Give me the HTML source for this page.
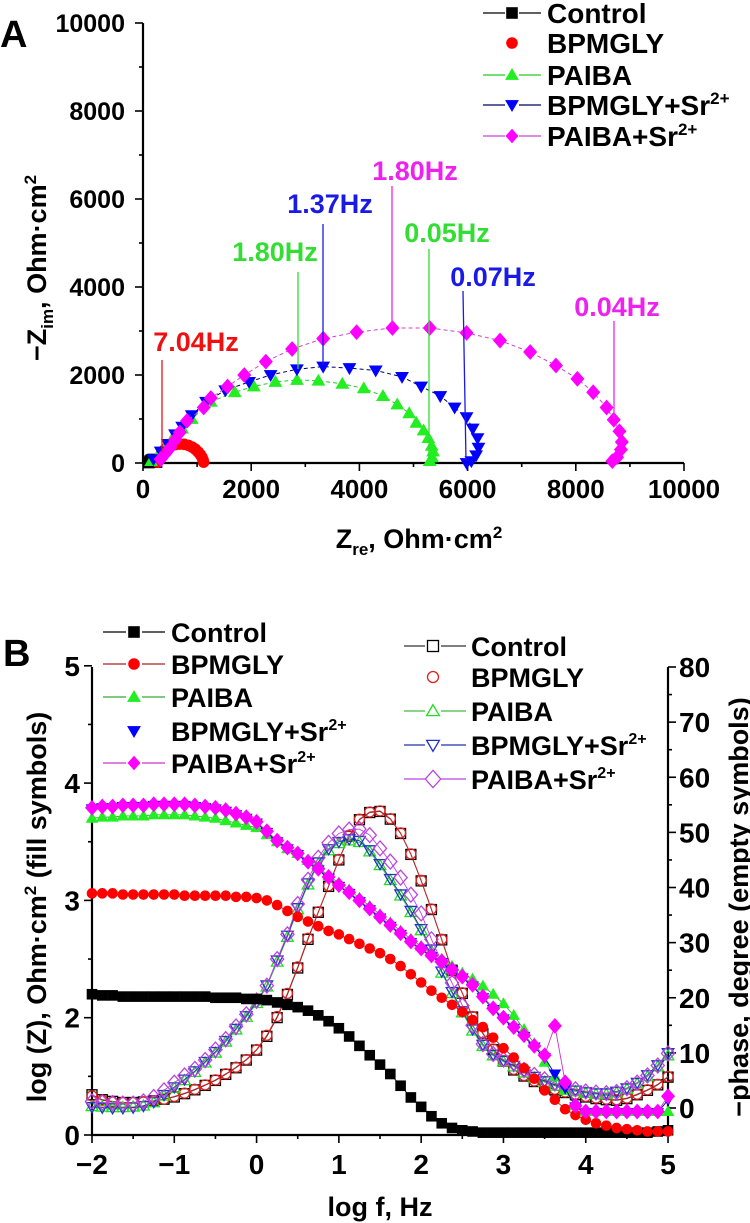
<!DOCTYPE html>
<html><head><meta charset="utf-8">
<style>
html,body{margin:0;padding:0;background:#fff;}
svg{display:block;font-family:"Liberation Sans",Arial,sans-serif;font-weight:bold;}
</style></head>
<body>
<svg id="fig" width="750" height="1223" viewBox="0 0 750 1223" xmlns="http://www.w3.org/2000/svg"></svg>
<script>
// ===== Panel A data (Nyquist) =====
const ctrlRe=[110,130,150,170,190,210,230,250];
const ctrlIm=[10,40,60,75,80,70,50,20];
const bpRe=[270,300,340,390,450,520,600,680,760,840,910,970,1020,1060,1090,1110,1120];
const bpIm=[20,120,210,290,350,395,420,430,425,400,360,310,250,190,130,70,20];
const paRe=[150,283,415,548,724,901,1254,1696,2049,2447,2845,3242,3684,4081,4435,4700,4920,5053,5186,5274,5336,5362,5345,5301];
const paIm=[43,174,348,565,783,1000,1391,1609,1739,1843,1887,1870,1800,1696,1522,1330,1130,913,739,565,391,261,130,43];
const bsRe=[194,327,459,592,724,901,1166,1520,1961,2359,2845,3330,3816,4302,4788,5142,5495,5760,5981,6095,6184,6201,6157,6069,5981];
const bsIm=[87,261,435,652,826,1087,1391,1652,1843,2000,2130,2191,2157,2104,1957,1739,1522,1261,1043,783,565,348,174,43,0];
const psRe=[327,415,503,592,680,813,1122,1254,1563,1872,2270,2756,3330,3948,4611,5301,5981,6599,7156,7633,8030,8322,8569,8701,8807,8851,8834,8763,8675];
const psIm=[87,217,348,522,696,957,1261,1478,1739,2000,2304,2591,2826,2974,3069,3069,2957,2783,2522,2217,1913,1609,1261,983,722,478,304,130,43];
const aTicks=[0,2000,4000,6000,8000,10000];
const aTickLabels=["0","2000","4000","6000","8000","10000"];

// ===== Panel B data (Bode), log f from -2 to 5 in steps of 0.125 =====
const logF=[-2,-1.875,-1.75,-1.625,-1.5,-1.375,-1.25,-1.125,-1,-0.875,-0.75,-0.625,-0.5,-0.375,-0.25,-0.125,0,0.125,0.25,0.375,0.5,0.625,0.75,0.875,1,1.125,1.25,1.375,1.5,1.625,1.75,1.875,2,2.125,2.25,2.375,2.5,2.625,2.75,2.875,3,3.125,3.25,3.375,3.5,3.625,3.75,3.875,4,4.125,4.25,4.375,4.5,4.625,4.75,4.875,5];
const zCtrl=[2.20,2.19,2.19,2.18,2.18,2.18,2.18,2.18,2.18,2.18,2.18,2.18,2.17,2.17,2.17,2.16,2.16,2.15,2.13,2.11,2.09,2.06,2.02,1.97,1.91,1.84,1.76,1.68,1.60,1.52,1.42,1.32,1.24,1.16,1.10,1.06,1.04,1.03,1.02,1.02,1.02,1.02,1.02,1.02,1.02,1.02,1.02,1.02,1.02,1.02,1.02,1.02,1.02,1.02,1.02,1.03,1.04];
const zBp=[3.06,3.06,3.06,3.05,3.05,3.05,3.05,3.05,3.05,3.04,3.04,3.04,3.04,3.04,3.03,3.03,3.02,3.00,2.96,2.91,2.86,2.82,2.78,2.74,2.71,2.67,2.63,2.59,2.55,2.50,2.44,2.37,2.30,2.23,2.17,2.11,2.05,1.98,1.92,1.83,1.74,1.66,1.57,1.48,1.38,1.30,1.22,1.17,1.13,1.10,1.08,1.06,1.05,1.04,1.03,1.03,1.03];
const zPa=[3.70,3.71,3.71,3.72,3.72,3.72,3.73,3.73,3.73,3.73,3.72,3.71,3.70,3.68,3.66,3.64,3.62,3.56,3.50,3.44,3.40,3.34,3.28,3.21,3.15,3.09,3.02,2.95,2.88,2.81,2.74,2.67,2.61,2.55,2.50,2.44,2.38,2.33,2.27,2.20,2.12,2.02,1.90,1.78,1.62,1.50,1.38,1.25,1.20,1.20,1.20,1.20,1.20,1.20,1.20,1.20,1.20];
const zBs=[3.78,3.79,3.79,3.80,3.80,3.80,3.81,3.81,3.81,3.81,3.80,3.79,3.78,3.76,3.73,3.70,3.66,3.58,3.50,3.44,3.39,3.32,3.26,3.19,3.12,3.06,2.99,2.92,2.85,2.78,2.71,2.64,2.58,2.52,2.47,2.40,2.34,2.27,2.17,2.07,1.99,1.91,1.84,1.75,1.66,1.52,1.40,1.24,1.19,1.19,1.19,1.19,1.19,1.19,1.19,1.19,1.30];
const zPs=[3.79,3.80,3.80,3.81,3.81,3.81,3.82,3.82,3.82,3.82,3.81,3.80,3.79,3.77,3.74,3.71,3.67,3.59,3.51,3.45,3.40,3.33,3.27,3.20,3.13,3.07,3.00,2.93,2.86,2.79,2.72,2.65,2.59,2.53,2.48,2.41,2.35,2.28,2.18,2.08,2.00,1.92,1.85,1.76,1.68,1.93,1.45,1.25,1.20,1.20,1.20,1.20,1.20,1.20,1.20,1.20,1.33];
const pCtrl=[2.4,1.5,1.2,1.0,1.0,1.1,1.3,1.6,2.0,2.6,3.3,4.1,5.0,6.1,7.3,8.7,10.5,13,16.4,20.6,25.4,30.6,35.5,40.2,45,49.3,52.3,53.6,53.8,52.4,49.8,46,41.2,36,30.5,25,20.8,16.5,13.5,10.6,8.5,6.9,5.8,4.8,4.0,3.3,2.8,2.4,2.0,1.7,1.5,1.4,1.7,2.4,3.2,4.2,5.6];
const pBp=[2.2,1.4,1.1,1.0,1.0,1.1,1.3,1.6,2.1,2.7,3.4,4.2,5.1,6.2,7.4,8.8,10.6,13.2,16.6,20.8,25.6,30.8,35.6,40.3,45.1,49.4,52.4,53.7,53.9,52.5,49.9,46.1,41.3,36.1,30.6,25.1,20.9,16.6,13.6,10.7,8.6,7.0,5.9,4.9,4.1,3.4,2.9,2.5,2.1,1.8,1.6,1.5,1.8,2.5,3.3,4.3,5.7];
const pPa=[0.3,0.2,0.1,0.1,0.2,0.4,1.0,2.2,3.6,5.0,6.5,8.2,10.0,12.0,14.2,16.5,19,22,26.5,31,36,40.5,44.3,46.7,48,48.5,48.2,46.5,44,41.3,38.5,35.5,32.2,28.5,24.5,20.8,17.3,14,11.2,9.5,8.4,7.5,6.4,5.5,4.7,4.0,3.4,3.0,2.7,2.5,2.5,2.8,3.4,4.4,5.7,7.5,9.5];
const pBs=[0.2,0.1,0.0,0.0,0.1,0.4,1.1,2.4,3.8,5.2,6.7,8.4,10.2,12.2,14.4,16.7,19.2,22.3,26.8,31.3,36.3,40.8,44.6,47.0,48.3,48.8,48.5,46.8,44.3,41.6,38.8,35.8,32.5,28.8,24.8,21.1,17.6,14.3,11.5,9.7,8.6,7.7,6.6,5.7,4.9,4.2,3.6,3.2,2.9,2.7,2.7,3.0,3.6,4.6,6.0,7.8,10.0];
const pPs=[1.2,1.0,0.9,0.8,0.8,1.2,2.0,3.2,4.6,5.9,7.1,8.7,10.6,12.5,14.8,17.0,19.5,22.2,27,31.5,37,41.4,45.4,48.1,49.8,50.5,50.6,49.5,47.1,44.7,41.8,38.7,35.3,30.6,26.5,22.7,18.6,15,11.6,9.8,8.8,8.1,6.9,6.0,5.2,4.5,3.9,3.4,3.0,2.8,2.7,2.9,3.6,4.6,5.9,7.7,9.9];
const bXTicks=[-2,-1,0,1,2,3,4,5];
const bXLabels=["\u22122","\u22121","0","1","2","3","4","5"];
const bLTicks=[1,2,3,4,5];
const bLLabels=["0","2","3","4","5"];
const bRTicks=[0,10,20,30,40,50,60,70,80];
const bRLabels=["0","10","20","30","40","50","60","70","80"];

// ===== scales =====
const xA=v=>143+v*0.0541, yA=v=>463-v*0.044;
const xB=v=>92+(v+2)*82.29, yL=v=>1135-(v-1)*117.3, yR=p=>1108-p*5.5125;

const NS="http://www.w3.org/2000/svg";
const svg=document.getElementById('fig');
function mk(tag,attrs,parent){const e=document.createElementNS(NS,tag);for(const k in attrs)e.setAttribute(k,attrs[k]);(parent||svg).appendChild(e);return e;}
function marker(g,type,cx,cy,s,color,filled){
  let e;const f=filled?color:'none',sw=filled?0.6:1.3;
  if(type==='sq') e=mk('rect',{x:cx-s/2,y:cy-s/2,width:s,height:s,fill:f,stroke:color,'stroke-width':sw},g);
  else if(type==='ci') e=mk('circle',{cx:cx,cy:cy,r:s/2,fill:f,stroke:color,'stroke-width':sw},g);
  else if(type==='tu') e=mk('polygon',{points:`${cx},${cy-s*0.58} ${cx-s*0.58},${cy+s*0.42} ${cx+s*0.58},${cy+s*0.42}`,fill:f,stroke:color,'stroke-width':sw},g);
  else if(type==='td') e=mk('polygon',{points:`${cx},${cy+s*0.58} ${cx-s*0.58},${cy-s*0.42} ${cx+s*0.58},${cy-s*0.42}`,fill:f,stroke:color,'stroke-width':sw},g);
  else e=mk('polygon',{points:`${cx},${cy-s*0.62} ${cx+s*0.55},${cy} ${cx},${cy+s*0.62} ${cx-s*0.55},${cy}`,fill:f,stroke:color,'stroke-width':sw},g);
  return e;
}
function text(str,x,y,size,anchor,fill,parent){const t=mk('text',{x:x,y:y,'font-size':size,'text-anchor':anchor||'start',fill:fill||'#000'},parent);t.textContent=str;return t;}

// ================= PANEL A =================
const gA=mk('g',{});


let t=text('A',0,47,38,'start','#000',gA);


let ax=mk('path',{d:`M143,${yA(10000)} V463 H${xA(10000)}`,stroke:'#000','stroke-width':2.2,fill:'none'},gA);


for(let v=0;v<=10000;v+=1000){
  const major=v%2000===0;
  mk('line',{x1:143,x2:major?135:139,y1:yA(v),y2:yA(v),stroke:'#000','stroke-width':1.6},gA);
  mk('line',{x1:xA(v),x2:xA(v),y1:463,y2:major?471:467,stroke:'#000','stroke-width':1.6},gA);
}
aTicks.forEach((v,i)=>{
  const ty=text(aTickLabels[i],125,yA(v)+9,25,'end','#000',gA);
  
  
  const tx=text(aTickLabels[i],xA(v),498,26,'middle','#000',gA);
  
  
});
t=mk('text',{x:419,y:548,'font-size':27,'text-anchor':'middle'},gA);
t.innerHTML='Z<tspan font-size="17" dy="7">re</tspan><tspan dy="-7">, Ohm·cm</tspan><tspan font-size="17" dy="-10">2</tspan>';


t=mk('text',{x:0,y:0,'font-size':27,'text-anchor':'middle',transform:'translate(46,268) rotate(-90)'},gA);
t.innerHTML='\u2212Z<tspan font-size="17" dy="7">im</tspan><tspan dy="-7">, Ohm·cm</tspan><tspan font-size="17" dy="-10">2</tspan>';



const nyq=[
 {n:'control',re:ctrlRe,im:ctrlIm,c:'#000',lc:'#000',m:'sq',dash:''},
 {n:'bpmgly',re:bpRe,im:bpIm,c:'#ff0000',lc:'#ff0000',m:'ci',dash:''},
 {n:'paiba',re:paRe,im:paIm,c:'#22ee22',lc:'#22cc22',m:'tu',dash:'4,3'},
 {n:'bpmgly-sr',re:bsRe,im:bsIm,c:'#0000ff',lc:'#000060',m:'td',dash:'4,3'},
 {n:'paiba-sr',re:psRe,im:psIm,c:'#ff00ff',lc:'#cc44cc',m:'di',dash:'4,3'}];
nyq.forEach(s=>{
  const g=mk('g',{},gA);
  
  
  const pts=s.re.map((r,i)=>xA(r)+','+yA(s.im[i])).join(' ');
  const pl=mk('polyline',{points:pts,fill:'none',stroke:s.lc,'stroke-width':1,'stroke-dasharray':s.dash},g);
  
  
  s.re.forEach((r,i)=>{
    const m=marker(g,s.m,xA(r),yA(s.im[i]),s.m==='di'?12:11,s.c,true);
    
    
  });
});
// frequency annotations
const ann=[
 {s:'7.04Hz',c:'#ee1111',tx:196,ty:351,lx1:162,ly1:360,lx2:162,ly2:452},
 {s:'1.80Hz',c:'#33dd33',tx:275,ty:261,lx1:298,ly1:272,lx2:298,ly2:369},
 {s:'1.37Hz',c:'#1a1ae6',tx:330,ty:213,lx1:323,ly1:224,lx2:323,ly2:365},
 {s:'1.80Hz',c:'#ee22ee',tx:415,ty:180,lx1:392,ly1:186,lx2:392,ly2:327},
 {s:'0.05Hz',c:'#33dd33',tx:447,ty:242,lx1:429,ly1:249,lx2:429,ly2:459},
 {s:'0.07Hz',c:'#1a1ae6',tx:493,ty:286,lx1:463,ly1:291,lx2:466,ly2:461},
 {s:'0.04Hz',c:'#ee22ee',tx:617,ty:316,lx1:614,ly1:321,lx2:614,ly2:419}];
ann.forEach(a=>{
  const l=mk('line',{x1:a.lx1,y1:a.ly1,x2:a.lx2,y2:a.ly2,stroke:a.c,'stroke-width':1.3},gA);
  
  
  const tt=text(a.s,a.tx,a.ty,27,'middle',a.c,gA);
  
  
});
// legend A
const legA=mk('g',{},gA);


const legNames=['Control','BPMGLY','PAIBA','BPMGLY+Sr','PAIBA+Sr'];
const legSup=['','','','2+','2+'];
const legAy=[13,43,75,105,136];
nyq.forEach((s,i)=>{
  const g=mk('g',{},legA);
  
  
  if(s.n!=='bpmgly'){mk('line',{x1:483,x2:505,y1:legAy[i],y2:legAy[i],stroke:s.lc,'stroke-width':1.2},g);mk('line',{x1:519,x2:541,y1:legAy[i],y2:legAy[i],stroke:s.lc,'stroke-width':1.2},g);}
  marker(g,s.m,512,legAy[i],11,s.c,true);
  const tt=mk('text',{x:547,y:legAy[i]+10,'font-size':28},g);
  tt.innerHTML=legNames[i]+(legSup[i]?'<tspan font-size="17" dy="-11">'+legSup[i]+'</tspan>':'');
});

// ================= PANEL B =================
const gB=mk('g',{});


t=text('B',3,666,38,'start','#000',gB);


ax=mk('path',{d:`M92,667 V1135 H668 V667`,stroke:'#000','stroke-width':2.2,fill:'none'},gB);


for(let v=-2;v<=5.001;v+=0.5){const mj=Math.abs(v-Math.round(v))<0.01;mk('line',{x1:xB(v),x2:xB(v),y1:1135,y2:mj?1143:1139,stroke:'#000','stroke-width':1.6},gB);}
for(let v=1;v<=5.001;v+=0.5){const mj=Math.abs(v-Math.round(v))<0.01;mk('line',{x1:92,x2:mj?84:88,y1:yL(v),y2:yL(v),stroke:'#000','stroke-width':1.6},gB);}
for(let p=0;p<=80;p+=5){const mj=p%10===0;mk('line',{x1:668,x2:mj?676:672,y1:yR(p),y2:yR(p),stroke:'#000','stroke-width':1.6},gB);}
bXTicks.forEach((v,i)=>{const tt=text(bXLabels[i],xB(v),1174,28,'middle','#000',gB);
  
  });
bLTicks.forEach((v,i)=>{const tt=text(bLLabels[i],80,yL(v)+10,28,'end','#000',gB);
  
  });
bRTicks.forEach((v,i)=>{const tt=text(bRLabels[i],679,yR(v)+10,28,'start','#000',gB);
  
  });
t=text('log f, Hz',380,1216,27,'middle','#000',gB);


t=mk('text',{x:0,y:0,'font-size':27,'text-anchor':'middle',transform:'translate(46,907) rotate(-90)'},gB);
t.innerHTML='log (Z), Ohm·cm<tspan font-size="17" dy="-10">2</tspan><tspan dy="10"> (fill symbols)</tspan>';


t=mk('text',{x:0,y:0,'font-size':27,'text-anchor':'middle',transform:'translate(748,907) rotate(-90)'},gB);
t.textContent='\u2212phase, degree (empty symbols)';



const phs=[
 {n:'control',v:pCtrl,c:'#000',lc:'#333',m:'sq'},
 {n:'bpmgly',v:pBp,c:'#dd2222',lc:'#dd2222',m:'ci'},
 {n:'paiba',v:pPa,c:'#22dd22',lc:'#44bb44',m:'tu'},
 {n:'bpmgly-sr',v:pBs,c:'#2233cc',lc:'#2233aa',m:'td'},
 {n:'paiba-sr',v:pPs,c:'#bb44dd',lc:'#bb44dd',m:'di'}];
const mags=[
 {n:'control',v:zCtrl,c:'#000',lc:'#000',m:'sq'},
 {n:'bpmgly',v:zBp,c:'#ff0000',lc:'#aa2222',m:'ci'},
 {n:'paiba',v:zPa,c:'#22ee22',lc:'#33aa33',m:'tu'},
 {n:'bpmgly-sr',v:zBs,c:'#0000ff',lc:'#0000aa',m:'td'},
 {n:'paiba-sr',v:zPs,c:'#ff00ff',lc:'#cc33cc',m:'di'}];
phs.forEach(s=>{
  const g=mk('g',{},gB);
  
  
  const pl=mk('polyline',{points:logF.map((f,i)=>xB(f)+','+yR(s.v[i])).join(' '),fill:'none',stroke:s.lc,'stroke-width':0.9},g);
  
  
  logF.forEach((f,i)=>{const m=marker(g,s.m,xB(f),yR(s.v[i]),s.m==='di'?12:10,s.c,false);
    
    });
});
mags.forEach(s=>{
  const g=mk('g',{},gB);
  
  
  const pl=mk('polyline',{points:logF.map((f,i)=>xB(f)+','+yL(s.v[i])).join(' '),fill:'none',stroke:s.lc,'stroke-width':0.9},g);
  
  
  logF.forEach((f,i)=>{const m=marker(g,s.m,xB(f),yL(s.v[i]),s.m==='di'?12:10,s.c,true);
    
    });
});
// legends B
const legB1=mk('g',{},gB);


const lb1y=[632,664,697,731,763];
mags.forEach((s,i)=>{
  const g=mk('g',{},legB1);
  
  
  if(s.n!=='bpmgly-sr'){mk('line',{x1:103,x2:126,y1:lb1y[i],y2:lb1y[i],stroke:s.lc,'stroke-width':1.2},g);mk('line',{x1:142,x2:165,y1:lb1y[i],y2:lb1y[i],stroke:s.lc,'stroke-width':1.2},g);}
  marker(g,s.m,134,lb1y[i],11,s.c,true);
  const tt=mk('text',{x:171,y:lb1y[i]+10,'font-size':27},g);
  tt.innerHTML=legNames[i]+(legSup[i]?'<tspan font-size="16" dy="-11">'+legSup[i]+'</tspan>':'');
});
const legB2=mk('g',{},gB);


const lb2y=[646,677,711,745,779];
phs.forEach((s,i)=>{
  const g=mk('g',{},legB2);
  
  
  if(s.n!=='bpmgly'){mk('line',{x1:404,x2:425,y1:lb2y[i],y2:lb2y[i],stroke:s.lc,'stroke-width':1.2},g);mk('line',{x1:441,x2:466,y1:lb2y[i],y2:lb2y[i],stroke:s.lc,'stroke-width':1.2},g);}
  marker(g,s.m,433,lb2y[i],s.m==='di'?14:11,s.c,false);
  const tt=mk('text',{x:471,y:lb2y[i]+10,'font-size':27},g);
  tt.innerHTML=legNames[i]+(legSup[i]?'<tspan font-size="16" dy="-11">'+legSup[i]+'</tspan>':'');
});
</script>
</body></html>
